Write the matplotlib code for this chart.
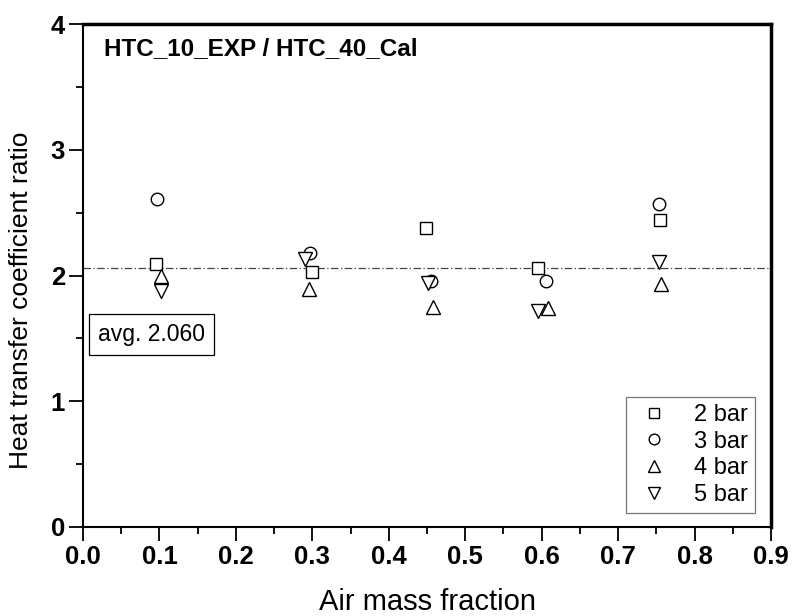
import matplotlib
matplotlib.use("Agg")
import matplotlib.pyplot as plt
from matplotlib.ticker import MultipleLocator

plt.rcParams['font.family'] = ['Liberation Sans', 'DejaVu Sans']

# HTC ratio per pressure
x_2bar = [0.095, 0.300, 0.449, 0.595, 0.755]
y_2bar = [2.09, 2.025, 2.38, 2.057, 2.44]
x_3bar = [0.097, 0.297, 0.455, 0.605, 0.753]
y_3bar = [2.61, 2.177, 1.956, 1.96, 2.57]
x_4bar = [0.1015, 0.295, 0.458, 0.608, 0.756]
y_4bar = [2.00, 1.89, 1.753, 1.74, 1.935]
x_5bar = [0.102, 0.291, 0.451, 0.595, 0.753]
y_5bar = [1.877, 2.13, 1.94, 1.72, 2.11]
avg = 2.060

series = [
    (x_2bar, y_2bar, 's', 8.0, '2 bar'),
    (x_3bar, y_3bar, 'o', 9.0, '3 bar'),
    (x_4bar, y_4bar, '^', 10.5, '4 bar'),
    (x_5bar, y_5bar, 'v', 10.5, '5 bar'),
]

fig = plt.figure(figsize=(7.93, 6.16), dpi=100)
ax = fig.add_axes([0.1047, 0.1445, 0.8676, 0.8165])

for xs, ys, mk, ms, lab in series:
    ax.plot(xs, ys, linestyle='none', marker=mk, markersize=ms,
            markerfacecolor='white', markeredgecolor='black',
            markeredgewidth=1.0, label=lab)

ax.axhline(avg, color='#444444', linewidth=0.9, linestyle='-.',
           dashes=(6, 2, 1, 2), zorder=0)

ax.set_xlim(0, 0.9)
ax.set_ylim(0, 4)
ax.xaxis.set_major_locator(MultipleLocator(0.1))
ax.xaxis.set_minor_locator(MultipleLocator(0.05))
ax.yaxis.set_major_locator(MultipleLocator(1))
ax.yaxis.set_minor_locator(MultipleLocator(0.5))
ax.xaxis.set_major_formatter(plt.FormatStrFormatter('%.1f'))

ax.tick_params(which='major', direction='out', length=10, width=1.3, pad=3)
ax.tick_params(which='minor', direction='out', length=5, width=1.3)
for t in ax.get_xticklabels() + ax.get_yticklabels():
    t.set_fontweight('bold')
    t.set_fontsize(18.5)

for side in ['left', 'bottom']:
    ax.spines[side].set_linewidth(1.5)
for side in ['top', 'right']:
    ax.spines[side].set_linewidth(2.5)

ax.set_xlabel('Air mass fraction', fontsize=21, labelpad=14)
ax.set_ylabel('Heat transfer coefficient ratio', fontsize=19)
ax.yaxis.set_label_coords(-0.072, 0.45)

ax.text(0.03, 0.952, 'HTC_10_EXP / HTC_40_Cal', transform=ax.transAxes,
        fontsize=17.5, fontweight='bold', ha='left', va='center')

ax.text(0.022, 1.53, 'avg. 2.060', fontsize=16.5, ha='left', va='center',
        transform=ax.get_yaxis_transform(),
        bbox=dict(boxstyle='square,pad=0.4', facecolor='white',
                  edgecolor='black', linewidth=0.9))

leg = ax.legend(loc='lower right', bbox_to_anchor=(0.984, 0.018),
                fontsize=17, frameon=True, fancybox=False,
                handletextpad=0.8, labelspacing=0.2, borderpad=0.3,
                handlelength=1.8, markerscale=0.85, borderaxespad=0.2)
leg.get_frame().set_edgecolor('#555555')
leg.get_frame().set_linewidth(0.9)

fig.savefig('out.png', dpi=100)
